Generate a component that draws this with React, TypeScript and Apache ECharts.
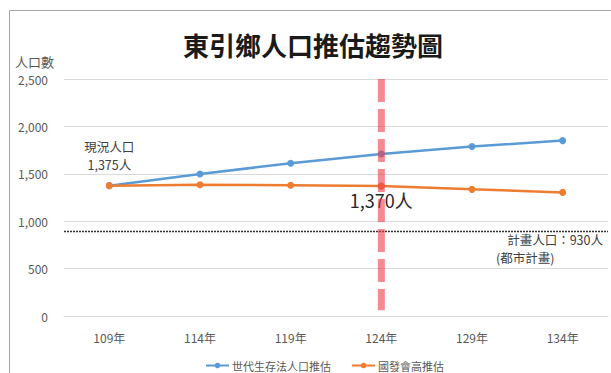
import React, { useEffect, useRef } from "react";
import * as echarts from "echarts";

const categories = ["109年", "114年", "119年", "124年", "129年", "134年"];
const cohortSeries = [1375, 1498, 1611, 1709, 1787, 1850];
const ndcHighSeries = [1375, 1385, 1380, 1370, 1336, 1304];
const seriesNames = ["世代生存法人口推估", "國發會高推估"];
const planPopulation = 930;
const planLineLevel = 898;
const highlightCategory = "124年";
const highlightRange = [2500, 60];
const yTicks = { min: 0, max: 2500, interval: 500 };

const FONT = "'Noto Sans CJK TC', 'Noto Sans', sans-serif";

export default function App() {
  const ref = useRef<HTMLDivElement>(null);
  useEffect(() => {
    document.body.style.margin = "0";
    const chart = echarts.init(ref.current!, null, { renderer: "svg" });
    chart.setOption({
      animation: false,
      backgroundColor: "#ffffff",
      textStyle: { fontFamily: FONT },
      grid: { left: 64, right: 3, top: 79, bottom: 57 },
      xAxis: {
        type: "category",
        data: categories,
        boundaryGap: true,
        axisLine: { show: true, lineStyle: { color: "#d9d9d9", width: 1 } },
        axisTick: { show: false },
        axisLabel: { color: "#595959", fontSize: 12, margin: 15, fontFamily: FONT },
      },
      yAxis: {
        type: "value",
        min: yTicks.min,
        max: yTicks.max,
        interval: yTicks.interval,
        axisLine: { show: false },
        axisTick: { show: false },
        splitLine: { lineStyle: { color: "#d9d9d9", width: 1 } },
        axisLabel: {
          color: "#595959",
          fontSize: 12,
          margin: 16,
          fontFamily: FONT,
          formatter: (v: number) => v.toLocaleString("en-US"),
        },
      },
      legend: {
        data: seriesNames,
        top: 355,
        left: 200,
        itemWidth: 23,
        itemHeight: 7,
        itemGap: 20,
        textStyle: { fontSize: 11, color: "#595959", fontFamily: FONT, padding: [0, 0, 0, -2] },
      },
      graphic: [
        {
          type: "rect",
          shape: { x: 9.5, y: 10.5, width: 700, height: 500 },
          style: { fill: "none", stroke: "#a6a6a6", lineWidth: 1 },
          silent: true,
        },
        {
          type: "text",
          x: 313,
          y: 44,
          style: {
            text: "東引鄉人口推估趨勢圖",
            fontSize: 26,
            fontWeight: "bold",
            fontFamily: FONT,
            fill: "#1a1a1a",
            textAlign: "center",
            textVerticalAlign: "middle",
          },
        },
        {
          type: "text",
          x: 15,
          y: 61,
          style: {
            text: "人口數",
            fontSize: 13,
            fontFamily: FONT,
            fill: "#595959",
            textAlign: "left",
            textVerticalAlign: "middle",
          },
        },
        {
          type: "text",
          x: 603,
          y: 239,
          style: {
            text: `計畫人口：${planPopulation}人`,
            fontSize: 12.5,
            fontFamily: FONT,
            fill: "#404040",
            textAlign: "right",
            textVerticalAlign: "middle",
          },
        },
        {
          type: "text",
          x: 496,
          y: 257,
          style: {
            text: "(都市計畫)",
            fontSize: 12.5,
            fontFamily: FONT,
            fill: "#404040",
            textAlign: "left",
            textVerticalAlign: "middle",
          },
        },
      ],
      series: [
        {
          name: seriesNames[0],
          type: "line",
          data: cohortSeries.map((v, i) =>
            i === 0
              ? {
                  value: v,
                  label: {
                    show: true,
                    position: "top",
                    distance: 9,
                    formatter: () => `現況人口\n${v.toLocaleString("en-US")}人`,
                    fontSize: 12.5,
                    lineHeight: 18,
                    color: "#404040",
                    fontFamily: FONT,
                    align: "center",
                  },
                }
              : v
          ),
          symbol: "circle",
          symbolSize: 7,
          lineStyle: { color: "#5B9BD5", width: 2.5 },
          itemStyle: { color: "#5B9BD5" },
          z: 3,
        },
        {
          name: seriesNames[1],
          type: "line",
          data: ndcHighSeries.map((v, i) =>
            categories[i] === highlightCategory
              ? {
                  value: v,
                  label: {
                    show: true,
                    position: "bottom",
                    distance: 1,
                    formatter: () => `${v.toLocaleString("en-US")}人`,
                    fontSize: 18,
                    color: "#262626",
                    fontFamily: FONT,
                  },
                }
              : v
          ),
          symbol: "circle",
          symbolSize: 7,
          lineStyle: { color: "#ED7D31", width: 2.5 },
          itemStyle: { color: "#ED7D31" },
          markLine: {
            silent: true,
            symbol: "none",
            label: { show: false },
            lineStyle: { color: "#333333", width: 1.3, type: [2, 1] },
            data: [{ yAxis: planLineLevel }],
          },
          z: 3,
        },
        {
          name: "highlight",
          type: "line",
          data: [
            [highlightCategory, highlightRange[0]],
            [highlightCategory, highlightRange[1]],
          ],
          showSymbol: false,
          symbol: "none",
          silent: true,
          lineStyle: { color: "rgba(238,60,70,0.6)", width: 7, type: [23, 7] },
          z: 6,
        },
      ],
    });
    return () => chart.dispose();
  }, []);
  return <div ref={ref} style={{ width: 611, height: 373 }} />;
}
